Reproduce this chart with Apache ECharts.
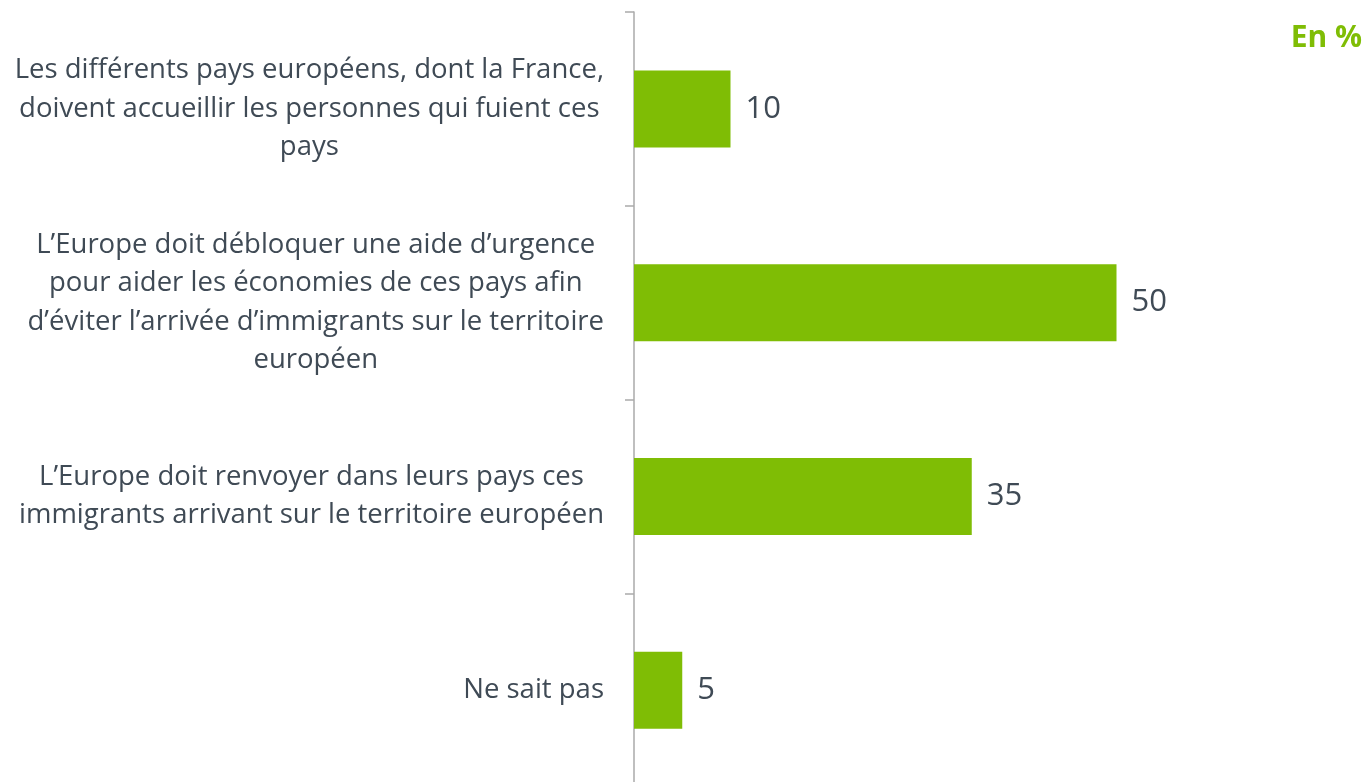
<!DOCTYPE html>
<html>
<head>
<meta charset="utf-8">
<script src="https://cdn.jsdelivr.net/npm/echarts@6/dist/echarts.min.js"></script>
<style>
html, body { margin: 0; padding: 0; background: #fff; }
#main { width: 1369px; height: 782px; }
</style>
</head>
<body>
<div id="main"></div>
<script>
// libellés des réponses (retours à la ligne comme dans l'original)
const categories = [
    'Les différents pays européens, dont la France,\ndoivent accueillir les personnes qui fuient ces\npays',
    'L’Europe doit débloquer une aide d’urgence\npour aider les économies de ces pays afin\nd’éviter l’arrivée d’immigrants sur le territoire\neuropéen',
    'L’Europe doit renvoyer dans leurs pays ces\nimmigrants arrivant sur le territoire européen',
    'Ne sait pas'
];
const values = [10, 50, 35, 5];
const unitLabel = 'En %';

const green = '#7fbd05';
const textColor = '#3f4a55';

let chart = echarts.init(document.getElementById('main'));
chart.setOption({
    title: {
        text: unitLabel,
        right: 2,
        top: 18,
        textStyle: {
            fontFamily: 'Open Sans',
            fontSize: 30,
            fontWeight: 'bold',
            color: green
        }
    },
    grid: {
        left: 634,
        top: 12,
        width: 675.5,
        height: 775,
        outerBoundsMode: 'none',
        containLabel: false
    },
    xAxis: {
        type: 'value',
        min: 0,
        max: 70,
        show: false
    },
    yAxis: {
        type: 'category',
        inverse: true,
        data: categories,
        axisLine: {
            show: true,
            lineStyle: { color: '#aaaaaa', width: 1.5 }
        },
        axisTick: {
            show: true,
            length: 9,
            lineStyle: { color: '#aaaaaa', width: 1.5 }
        },
        axisLabel: {
            margin: 30,
            //每行居中，整体靠右
            formatter: v => v.split('\n').map(l => '{c|' + l + '}').join('\n'),
            rich: {
                c: {
                    align: 'center',
                    fontFamily: 'Open Sans',
                    fontSize: 27.5,
                    lineHeight: 38.5,
                    color: textColor
                }
            }
        }
    },
    series: [{
        type: 'bar',
        data: values,
        barWidth: 77,
        itemStyle: { color: green },
        label: {
            show: true,
            position: 'right',
            distance: 15,
            fontFamily: 'Open Sans',
            fontSize: 31,
            color: textColor
        }
    }]
});
</script>
</body>
</html>
